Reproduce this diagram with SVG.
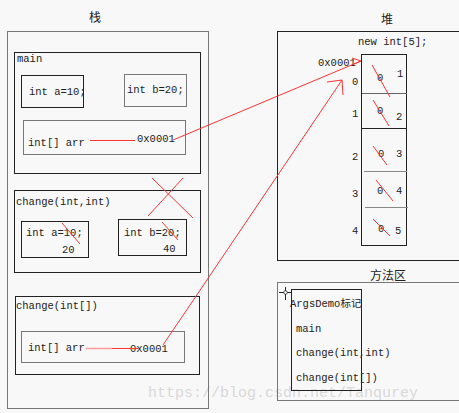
<svg xmlns="http://www.w3.org/2000/svg" width="459" height="413" viewBox="0 0 459 413">
<style>
text{font-family:"Liberation Mono","DejaVu Sans Mono","Noto Sans CJK SC",monospace;font-size:10.5px;fill:#222}
.t{font-family:"Noto Sans CJK SC","Liberation Sans",sans-serif;font-size:12px}
.box{fill:none;stroke:#222;stroke-width:1}
.gbox{fill:none;stroke:#777;stroke-width:1}
.r{stroke:#f33;stroke-width:1;fill:none}
.wm{font-size:15px;fill:#d9d9d9}
</style>
<rect width="459" height="413" fill="#f8f8f8"/>
<text class="wm" x="148" y="397">https://blog.csdn.net/Tanqurey</text>

<g id="stack">
<text class="t" x="95" y="22" text-anchor="middle">栈</text>
<rect class="gbox" x="7.5" y="31.5" width="201" height="377"/>
</g>
<g id="main">
<rect class="box" x="14.5" y="52.5" width="186" height="121"/>
<text x="17" y="62">main</text>
<rect class="box" x="21.5" y="75.5" width="62" height="32"/>
<text x="29" y="95">int a=10;</text>
<rect class="gbox" x="124.5" y="74.5" width="62" height="32"/>
<text x="127" y="93">int b=20;</text>
<rect class="gbox" x="23.5" y="120.5" width="162" height="34"/>
<text x="28" y="146">int[] arr</text>
<text x="137" y="142">0x0001</text>
</g>
<g id="change-int-int">
<rect class="box" x="14.5" y="190.5" width="186" height="82"/>
<text x="16" y="205">change(int,int)</text>
<rect class="box" x="21.5" y="221.5" width="67" height="36"/>
<text x="26" y="236">int a=10;</text>
<text x="62" y="253">20</text>
<rect class="box" x="118.5" y="219.5" width="68" height="36"/>
<text x="124" y="236">int b=20;</text>
<text x="163" y="252">40</text>
</g>
<g id="change-int-arr">
<rect class="box" x="15.5" y="296.5" width="184" height="78"/>
<text x="16" y="309">change(int[])</text>
<rect class="gbox" x="21.5" y="331.5" width="163" height="31"/>
<text x="28" y="351">int[] arr</text>
<text x="130" y="352">0x0001</text>
</g>

<g id="heap">
<text class="t" x="387" y="24" text-anchor="middle">堆</text>
<rect class="box" x="277.5" y="31.5" width="190" height="229"/>
<text x="358" y="45">new int[5];</text>
<text x="318" y="66">0x0001</text>
<rect class="box" x="361.5" y="54.5" width="45" height="191"/>
<line x1="362" y1="93.5" x2="407" y2="93.5" stroke="#666"/>
<line x1="362" y1="128.5" x2="407" y2="128.5" stroke="#222"/>
<line x1="364" y1="171.5" x2="407" y2="171.5" stroke="#888"/>
<line x1="365" y1="207.5" x2="408" y2="207.5" stroke="#888"/>
<text x="352" y="85">0</text>
<text x="352" y="117">1</text>
<text x="352" y="160">2</text>
<text x="352" y="197">3</text>
<text x="352" y="234">4</text>
<text x="377" y="81">0</text><text x="397" y="77">1</text>
<text x="377" y="114">0</text><text x="396" y="120">2</text>
<text x="378" y="157">0</text><text x="396" y="157">3</text>
<text x="377" y="194">0</text><text x="396" y="194">4</text>
<text x="378" y="232">0</text><text x="395" y="234">5</text>
</g>

<g id="method-area">
<text class="t" x="388" y="280" text-anchor="middle">方法区</text>
<rect class="gbox" x="277.5" y="282.5" width="190" height="118"/>
<rect class="box" x="291.5" y="289.5" width="70" height="101"/>
<line x1="279" y1="292.5" x2="292" y2="292.5" stroke="#222"/>
<line x1="285.5" y1="287" x2="285.5" y2="300" stroke="#222"/>
<circle cx="285.5" cy="292.5" r="1.8" fill="#fff" stroke="#222" stroke-width="0.8"/>
<text x="290" y="307">ArgsDemo<tspan font-family="Noto Sans CJK SC,sans-serif">标记</tspan></text>
<text x="296" y="332">main</text>
<text x="296" y="356">change(int,int)</text>
<text x="296" y="381">change(int[])</text>
</g>

<g id="connectors">
<line class="r" x1="90" y1="140.5" x2="135" y2="140.5"/>
<polyline class="r" points="173,140 361,61"/>
<polyline class="r" points="352,58 361,61 354,64"/>
<line class="r" x1="86" y1="348.5" x2="138" y2="348.5"/>
<line x1="86" y1="348.5" x2="112" y2="348.5" stroke="#f99" stroke-width="1.5"/>
<polyline class="r" points="163,345 342,80"/>
<polyline class="r" points="327,82 342,80 343,95"/>
<line class="r" x1="152" y1="178" x2="193" y2="218"/>
<line class="r" x1="183" y1="178" x2="148" y2="216"/>
<line class="r" x1="62" y1="223" x2="80" y2="244"/>
<line class="r" x1="162" y1="222" x2="178" y2="240"/>
<line class="r" x1="372" y1="65" x2="390" y2="97"/>
<line class="r" x1="373" y1="100" x2="389" y2="126"/>
<line class="r" x1="373" y1="146" x2="387" y2="165"/>
<line class="r" x1="376" y1="180" x2="393" y2="201"/>
<line class="r" x1="373" y1="219" x2="390" y2="236"/>
</g>
</svg>
